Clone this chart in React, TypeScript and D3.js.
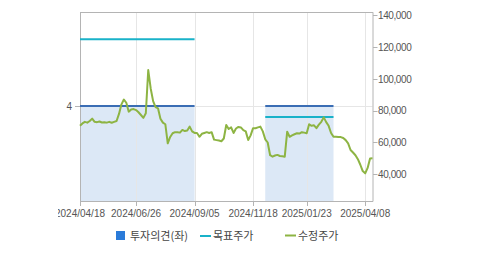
import React from "react";
import * as d3 from "d3";

// Adjusted close price, sampled every 2 trading days (2024/04/18 .. 2025/04)
const prices = [
  70500, 72000, 73000, 72500, 73500, 75000, 73000, 72800, 73200, 72600,
  72800, 72500, 73000, 72400, 73000, 73500, 78000, 84000, 87000, 85000,
  79400, 80800, 81000, 80400, 79000, 77300, 75500, 78400, 105600, 94000,
  86000, 82200, 81500, 75000, 72500, 71500, 59500, 63500, 65800, 66500,
  66500, 66200, 67900, 67200, 67500, 70000, 67000, 66000, 66000, 63600,
  65500, 66000, 66500, 66000, 66500, 61800, 61500, 61200, 60800, 62500,
  71000, 68500, 69500, 66000, 68800, 69800, 69500, 67800, 67000, 61600,
  64500, 69000, 69000, 69500, 70000, 67000, 62000, 60000, 52000, 51100,
  51800, 52200, 51500, 51300, 51100, 66800, 63600, 64500, 65200, 65800,
  65600, 66500, 66200, 65800, 71500, 70500, 70800, 69000, 71200, 73000,
  75800, 72800, 70500, 66000, 63600, 63600, 63500, 63400, 62800, 61500,
  59500, 55300, 53700, 52000, 49500, 46000, 42000, 40600, 44000, 50000,
  50100,
];

const tickIndex = [0, 23, 47, 71, 93, 117];
const tickLabels = ["2024/04/18", "2024/06/26", "2024/09/05", "2024/11/18", "2025/01/23", "2025/04/08"];

// Investment opinion periods (index ranges), opinion value and target price
const periodStart = [0, 76];
const periodEnd = [47, 104];
const opinionValue = [4, 4];
const targetPrice = [125000, 76000];

const rightTicks = [40000, 60000, 80000, 100000, 120000, 140000];
const leftTicks = [4];

const legendLabels = ["투자의견(좌)", "목표주가", "수정주가"];

const W = 479;
const H = 255;
const L = 80;
const R = 372.5;
const T = 12.3;
const B = 201;

const C_GREEN = "#8db443";
const C_BLUE = "#3a6db4";
const C_CYAN = "#19b2c9";
const C_BAND = "#dce8f6";
const C_AXIS = "#b4b4b4";
const C_GRID = "#e6e6e6";
const C_TEXT = "#555";

export default function App() {
  const x = d3.scaleLinear().domain([0, prices.length - 1]).range([L, R]);
  const yR = d3.scaleLinear().domain([23200, 141900]).range([B, T]);
  const yL = d3.scaleLinear().domain([0, 7.95]).range([B, T]);
  const line = d3
    .line<number>()
    .x((_, i) => x(i))
    .y((d) => yR(d));
  const fmt = d3.format(",");
  const font = "'Liberation Sans', Arial, sans-serif";
  const kfont = "'Noto Sans CJK KR', 'Noto Sans', sans-serif";

  return (
    <div style={{ position: "absolute", left: 0, top: 0 }}>
      <svg width={W} height={H} style={{ display: "block", background: "#fff" }}>
        <defs>
          <clipPath id="vis">
            <rect x={58} y={0} width={W - 58} height={H} />
          </clipPath>
        </defs>
        <g clipPath="url(#vis)">
          {/* opinion bands */}
          {periodStart.map((s, k) => (
            <rect
              key={"band" + k}
              x={x(s)}
              y={yL(opinionValue[k])}
              width={x(periodEnd[k]) - x(s)}
              height={B - yL(opinionValue[k])}
              fill={C_BAND}
            />
          ))}
          {/* vertical grid */}
          {tickIndex.slice(1).map((t, k) => (
            <line
              key={"vg" + k}
              x1={Math.round(x(t)) + 0.5}
              x2={Math.round(x(t)) + 0.5}
              y1={T}
              y2={B}
              stroke={C_GRID}
            />
          ))}
          {/* horizontal grid (left axis) */}
          {leftTicks.map((t, k) => (
            <line
              key={"hg" + k}
              x1={L}
              x2={R}
              y1={Math.round(yL(t)) + 0.5}
              y2={Math.round(yL(t)) + 0.5}
              stroke={C_GRID}
            />
          ))}
          {/* axes frame */}
          <line x1={L + 0.5} x2={L + 0.5} y1={T} y2={B + 0.5} stroke={C_AXIS} />
          <line x1={R + 0.5} x2={R + 0.5} y1={T} y2={B + 0.5} stroke={C_AXIS} />
          <line x1={L} x2={R + 0.5} y1={Math.round(T) + 0.5} y2={Math.round(T) + 0.5} stroke={C_AXIS} />
          <line x1={L} x2={R + 0.5} y1={B + 0.5} y2={B + 0.5} stroke={C_AXIS} />

          {/* opinion lines */}
          {periodStart.map((s, k) => (
            <line
              key={"op" + k}
              x1={x(s)}
              x2={x(periodEnd[k])}
              y1={yL(opinionValue[k])}
              y2={yL(opinionValue[k])}
              stroke={C_BLUE}
              strokeWidth={2}
            />
          ))}
          {/* target price lines */}
          {periodStart.map((s, k) => (
            <line
              key={"tp" + k}
              x1={x(s)}
              x2={x(periodEnd[k])}
              y1={yR(targetPrice[k])}
              y2={yR(targetPrice[k])}
              stroke={C_CYAN}
              strokeWidth={2}
            />
          ))}
          {/* price line */}
          <path d={line(prices) || ""} fill="none" stroke={C_GREEN} strokeWidth={2} strokeLinejoin="round" />

          {/* bottom axis ticks & labels */}
          {tickIndex.map((t, k) => (
            <g key={"xt" + k}>
              <line
                x1={Math.round(x(t)) + 0.5}
                x2={Math.round(x(t)) + 0.5}
                y1={B}
                y2={B + 5}
                stroke={C_AXIS}
              />
              <text
                x={x(t)}
                y={B + 16}
                textAnchor="middle"
                fontFamily={font}
                fontSize={10}
                fill={C_TEXT}
              >
                {tickLabels[k]}
              </text>
            </g>
          ))}
          {/* right axis ticks & labels */}
          {rightTicks.map((t, k) => (
            <g key={"yr" + k}>
              <line
                x1={R + 0.5}
                x2={R + 5}
                y1={Math.round(yR(t)) + 0.5}
                y2={Math.round(yR(t)) + 0.5}
                stroke={C_AXIS}
              />
              <text
                x={R + 5.5}
                y={yR(t) + 3.6}
                fontFamily={font}
                fontSize={10}
                letterSpacing={-0.4}
                fill={C_TEXT}
              >
                {fmt(t)}
              </text>
            </g>
          ))}
          {/* left axis ticks & labels */}
          {leftTicks.map((t, k) => (
            <g key={"yl" + k}>
              <line
                x1={L - 5}
                x2={L}
                y1={Math.round(yL(t)) + 0.5}
                y2={Math.round(yL(t)) + 0.5}
                stroke={C_AXIS}
              />
              <text
                x={L - 8}
                y={yL(t) + 3.6}
                textAnchor="end"
                fontFamily={font}
                fontSize={10}
                fill={C_TEXT}
              >
                {t}
              </text>
            </g>
          ))}

          {/* legend */}
          <rect x={116} y={231} width={9} height={9} fill="#2b7bd9" />
          <text x={130} y={240} fontFamily={kfont} fontSize={11} fill="#444">
            {legendLabels[0]}
          </text>
          <line x1={200} x2={211} y1={236} y2={236} stroke={C_CYAN} strokeWidth={2} />
          <text x={213} y={240} fontFamily={kfont} fontSize={11} fill="#444">
            {legendLabels[1]}
          </text>
          <line x1={285} x2={296} y1={235.5} y2={235.5} stroke={C_GREEN} strokeWidth={2} />
          <text x={298} y={240} fontFamily={kfont} fontSize={11} fill="#444">
            {legendLabels[2]}
          </text>
        </g>
      </svg>
    </div>
  );
}
